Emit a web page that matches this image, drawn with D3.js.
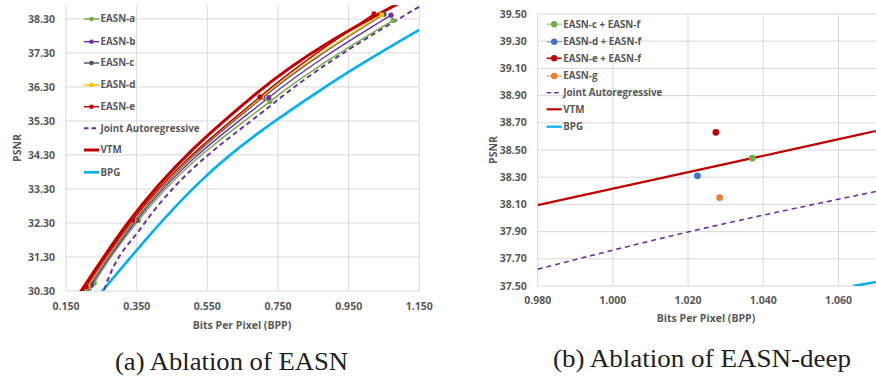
<!DOCTYPE html>
<html>
<head>
<meta charset="utf-8">
<script src="https://cdn.jsdelivr.net/npm/d3@7"></script>
<style>
  body { margin: 0; background: #fff; }
  svg { display: block; }
  .tick-label { font-family: "Open Sans", Lato, sans-serif; font-weight: 700; font-size: 10.5px; fill: #595959; }
  .legend-label { font-family: "Open Sans", Lato, sans-serif; font-weight: 700; font-size: 9.8px; fill: #595959; }
  .caption { font-family: "Liberation Serif", "DejaVu Serif", serif; font-size: 25px; fill: #222; }
</style>
</head>
<body>
<script>
// ---- DATA: (a) Ablation of EASN ----
var easnA = [[0.205, 30.05], [0.230, 30.53], [0.355, 32.37], [0.727, 35.87], [1.076, 38.26]];
var easnB = [[0.198, 30.05], [0.222, 30.48], [0.350, 32.38], [0.724, 35.99], [1.070, 38.41]];
var easnC = [[0.192, 30.05], [0.215, 30.46], [0.345, 32.39], [0.707, 35.99], [1.050, 38.44]];
var easnD = [[0.189, 30.05], [0.212, 30.45], [0.342, 32.39], [0.703, 36.00], [1.043, 38.42]];
var easnE = [[0.184, 30.05], [0.207, 30.43], [0.339, 32.39], [0.699, 36.01], [1.022, 38.45]];
var jointA = [[0.250, 30.10], [0.272, 30.72], [0.362, 32.15], [0.735, 35.80], [1.150, 38.66]];
var vtmA = [[0.180, 30.10], [0.325, 32.30], [0.690, 36.12], [1.090, 38.75]];
var bpgA = [[0.245, 30.20], [0.529, 33.51], [0.878, 36.26], [1.150, 37.98]];
var xTicksA = [0.150, 0.350, 0.550, 0.750, 0.950, 1.150];
var yTicksA = [30.30, 31.30, 32.30, 33.30, 34.30, 35.30, 36.30, 37.30, 38.30];
var namesA = ["EASN-a", "EASN-b", "EASN-c", "EASN-d", "EASN-e", "Joint Autoregressive", "VTM", "BPG"];

// ---- DATA: (b) Ablation of EASN-deep ----
var pointsB = [[1.0371, 38.44], [1.0225, 38.31], [1.0274, 38.63], [1.0284, 38.15]];
var vtmB = [[0.980, 38.095], [1.0371, 38.44], [1.070, 38.64]];
var jointB = [[0.980, 37.624], [1.020, 37.897], [1.070, 38.195]];
var bpgB = [[1.064, 37.50], [1.070, 37.53]];
var xTicksB = [0.980, 1.000, 1.020, 1.040, 1.060];
var yTicksB = [37.50, 37.70, 37.90, 38.10, 38.30, 38.50, 38.70, 38.90, 39.10, 39.30, 39.50];
var namesB = ["EASN-c + EASN-f", "EASN-d + EASN-f", "EASN-e + EASN-f", "EASN-g", "Joint Autoregressive", "VTM", "BPG"];

var green = "#70AD47", purple = "#7030A0", slate = "#44546A", gold = "#FFC000",
    red = "#C00000", blue = "#4472C4", orange = "#ED7D31", cyan = "#00B0F0";

var svg = d3.select("body").append("svg").attr("width", 876).attr("height", 379);
var defs = svg.append("defs");

function drawFrame(id, x, y, xTicks, yTicks, fmtX, xLabelY, titleX, titleY, psnrX) {
  var g = svg.append("g");
  var x0 = x.range()[0], x1 = x.range()[1], y0 = y.range()[1], y1 = y.range()[0];
  defs.append("clipPath").attr("id", id)
    .append("rect").attr("x", x0).attr("y", y0).attr("width", x1 - x0).attr("height", y1 - y0);

  g.selectAll(".hgrid").data(yTicks).enter().append("line")
    .attr("x1", x0).attr("x2", x1)
    .attr("y1", d => y(d)).attr("y2", d => y(d))
    .attr("stroke", "#d9d9d9").attr("stroke-width", 1);
  g.selectAll(".vgrid").data(xTicks).enter().append("line")
    .attr("x1", d => x(d)).attr("x2", d => x(d))
    .attr("y1", y0).attr("y2", y1)
    .attr("stroke", "#d9d9d9").attr("stroke-width", 1);

  g.selectAll(".ylab").data(yTicks).enter().append("text")
    .attr("class", "tick-label")
    .attr("x", x0 - 11).attr("y", d => y(d)).attr("dy", "0.35em")
    .attr("text-anchor", "end")
    .text(d => d.toFixed(2));
  g.selectAll(".xlab").data(xTicks).enter().append("text")
    .attr("class", "tick-label")
    .attr("x", d => x(d)).attr("y", xLabelY).attr("dy", "0.35em")
    .attr("text-anchor", "middle")
    .text(fmtX);

  g.append("text").attr("class", "tick-label")
    .attr("x", titleX).attr("y", titleY).attr("dy", "0.35em")
    .attr("text-anchor", "middle").text("Bits Per Pixel (BPP)");
  g.append("text").attr("class", "tick-label")
    .attr("transform", "translate(" + psnrX + "," + ((y0 + y1) / 2) + ") rotate(-90)")
    .attr("dy", "0.35em").attr("text-anchor", "middle").text("PSNR");
  return svg.append("g").attr("clip-path", "url(#" + id + ")");
}

function legend(items, lx, ys) {
  var g = svg.append("g");
  items.forEach(function(it, i) {
    var row = g.append("g").attr("transform", "translate(" + lx + "," + ys[i] + ")");
    row.append("line").attr("x1", 0).attr("x2", 15).attr("y1", 0).attr("y2", 0)
      .attr("stroke", it.line || it.color).attr("stroke-width", it.w)
      .attr("stroke-dasharray", it.dash || null);
    if (it.r) row.append("circle").attr("cx", 7.5).attr("cy", 0).attr("r", it.r).attr("fill", it.color);
    row.append("text").attr("class", "legend-label").attr("x", 16.5).attr("dy", "0.35em").text(it.name);
  });
}

// ---------- Chart (a) ----------
var xA = d3.scaleLinear().domain([0.150, 1.150]).range([66, 419.3]);
var yA = d3.scaleLinear().domain([30.30, 38.71]).range([291, 5]);
var plotA = drawFrame("clipA", xA, yA, xTicksA, yTicksA, d => d.toFixed(3), 306, 242, 325, 17);
var lineA = d3.line().x(d => xA(d[0])).y(d => yA(d[1])).curve(d3.curveMonotoneX);

plotA.append("path").datum(bpgA).attr("d", lineA).attr("fill", "none").attr("stroke", cyan).attr("stroke-width", 2.6);
plotA.append("path").datum(jointA).attr("d", lineA).attr("fill", "none").attr("stroke", purple)
  .attr("stroke-width", 2).attr("stroke-dasharray", "5,3.5");
plotA.append("path").datum(vtmA).attr("d", lineA).attr("fill", "none").attr("stroke", red).attr("stroke-width", 3);

var seriesA = [[easnA, green], [easnB, purple], [easnC, slate], [easnD, gold], [easnE, red]];
seriesA.forEach(function(s) {
  plotA.append("path").datum(s[0]).attr("d", lineA).attr("fill", "none").attr("stroke", s[1]).attr("stroke-width", 1.4);
  plotA.selectAll(null).data(s[0]).enter().append("circle")
    .attr("cx", d => xA(d[0])).attr("cy", d => yA(d[1])).attr("r", 2.6).attr("fill", s[1]);
});

legend([
  {name: namesA[0], color: green, w: 1.4, r: 2.3},
  {name: namesA[1], color: purple, w: 1.4, r: 2.3},
  {name: namesA[2], color: slate, w: 1.4, r: 2.3},
  {name: namesA[3], color: gold, w: 1.4, r: 2.3},
  {name: namesA[4], color: red, w: 1.4, r: 2.3},
  {name: namesA[5], color: purple, w: 2, dash: "4.5,3"},
  {name: namesA[6], color: red, w: 3},
  {name: namesA[7], color: cyan, w: 2.6}
], 84, [19, 41.7, 63, 85, 106.7, 128.3, 150, 172.3]);

// ---------- Chart (b) ----------
var xB = d3.scaleLinear().domain([0.980, 1.070]).range([537.7, 876]);
var yB = d3.scaleLinear().domain([37.50, 39.50]).range([286, 14]);
var plotB = drawFrame("clipB", xB, yB, xTicksB, yTicksB, d => d.toFixed(3), 300, 706, 318, 493);
var lineB = d3.line().x(d => xB(d[0])).y(d => yB(d[1])).curve(d3.curveMonotoneX);

plotB.append("path").datum(bpgB).attr("d", lineB).attr("fill", "none").attr("stroke", cyan).attr("stroke-width", 2.6);
plotB.append("path").datum(jointB).attr("d", lineB).attr("fill", "none").attr("stroke", purple)
  .attr("stroke-width", 1.6).attr("stroke-dasharray", "5,4");
plotB.append("path").datum(vtmB).attr("d", lineB).attr("fill", "none").attr("stroke", red).attr("stroke-width", 2.2);

var colorsB = [green, blue, red, orange];
plotB.selectAll(".ptB").data(pointsB).enter().append("circle")
  .attr("cx", d => xB(d[0])).attr("cy", d => yB(d[1])).attr("r", 3.4)
  .attr("fill", (d, i) => colorsB[i]);

legend([
  {name: namesB[0], color: green, line: "#a9d18e", w: 1.6, r: 3.2},
  {name: namesB[1], color: blue, line: "#8faadc", w: 1.6, r: 3.2},
  {name: namesB[2], color: red, w: 1.6, r: 3.2},
  {name: namesB[3], color: orange, line: "#f4b183", w: 1.6, r: 3.2},
  {name: namesB[4], color: purple, w: 1.6, dash: "4.5,3"},
  {name: namesB[5], color: red, w: 2.2},
  {name: namesB[6], color: cyan, w: 2.2}
], 546.7, [24.3, 41.7, 58.3, 76, 92.7, 109.3, 126.7]);

// ---------- Captions ----------
svg.append("text").attr("class", "caption").attr("x", 231.5).attr("y", 370)
  .attr("text-anchor", "middle").attr("textLength", 233).attr("lengthAdjust", "spacingAndGlyphs")
  .text("(a) Ablation of EASN");
svg.append("text").attr("class", "caption").attr("x", 702).attr("y", 367)
  .attr("text-anchor", "middle").attr("textLength", 298).attr("lengthAdjust", "spacingAndGlyphs")
  .text("(b) Ablation of EASN-deep");
</script>
</body>
</html>
